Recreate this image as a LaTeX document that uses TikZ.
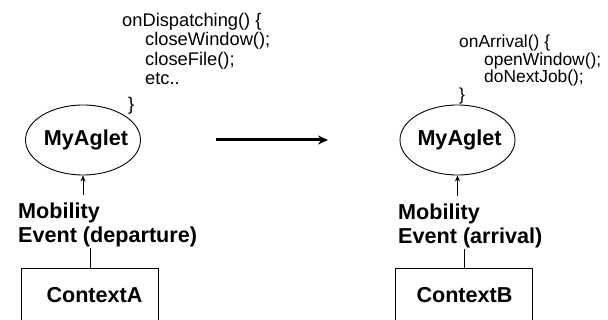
\documentclass[tikz,border=0pt]{standalone}
\usepackage{fontspec}
\setmainfont{Liberation Sans}
\usetikzlibrary{arrows.meta,shapes.geometric}
\begin{document}
\begin{tikzpicture}[x=1pt,y=-1pt,
  codeA/.style={font=\fontsize{18.3}{20}\selectfont, inner sep=0pt, anchor=base west},
  codeB/.style={font=\fontsize{17.4}{18}\selectfont, inner sep=0pt, anchor=base west},
  lbl/.style={font=\bfseries\fontsize{21.6}{24}\selectfont, inner sep=0pt},
  agent/.style={ellipse, draw, line width=0.9pt, minimum width=115pt, minimum height=70pt, inner sep=0pt},
  ctx/.style={draw, line width=1.2pt, minimum width=137pt, minimum height=70pt, anchor=north west, inner sep=0pt},
  evt/.style={lbl, align=left, anchor=north west},
  link/.style={line width=0.9pt},
  up/.style={line width=0.9pt, -{Stealth[length=6pt,width=5pt]}, shorten <=8pt}]
\useasboundingbox (0,0) rectangle (608,320);
\clip (0,0) rectangle (608,320);
\fill[white] (0,0) rectangle (608,320);

% left side
\node[codeA] (la1) at (122,27) {onDispatching() \{};
\node[codeA] (la2) at (145,46) {closeWindow();};
\node[codeA] (la3) at (145,66) {closeFile();};
\node[codeA] (la4) at (145,85) {etc..};
\node[codeA] (la5) at (128,111) {\}};
\node[agent] (agA) at (83,140) {};
\node[lbl] (tagA) at (86,140) {MyAglet};
\node[evt] (mA) at (18,203) {Mobility\\Event (departure)};
\node[ctx] (cA) at (21,268) {};
\node[lbl] (tcA) at (94.5,295) {ContextA};
\draw[up] (agA.south |- mA.north) -- (agA.south);
\draw[link] (cA.north |- mA.south) -- (cA.north);

% middle arrow
\coordinate (m1) at (216,140);
\coordinate (m2) at (328,140);
\draw[line width=3pt, -{Stealth[length=10pt,width=9pt]}] (m1) -- (m2);

% right side
\node[codeB] (rb1) at (459,48) {onArrival() \{};
\node[codeB] (rb2) at (484,66) {openWindow();};
\node[codeB] (rb3) at (484,83) {doNextJob();};
\node[codeB] (rb4) at (459,101) {\}};
\node[agent] (agB) at (457.5,140) {};
\node[lbl] (tagB) at (459.5,140) {MyAglet};
\node[evt] (mB) at (398,204) {Mobility\\Event (arrival)};
\node[ctx] (cB) at (395,268) {};
\node[lbl] (tcB) at (464.5,295) {ContextB};
\draw[up] (agB.south |- mB.north) -- (agB.south);
\draw[link] (cB.north |- mB.south) -- (cB.north);
\end{tikzpicture}
\end{document}
